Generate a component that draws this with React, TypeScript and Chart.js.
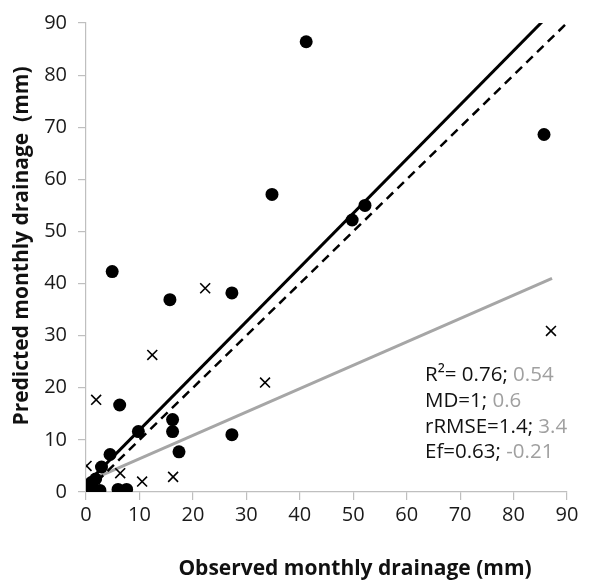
import React, { useEffect, useRef } from "react";
import { Chart, registerables } from "chart.js";

Chart.register(...registerables);

// Observed (x) vs predicted (y) monthly drainage, mm
const circleObs = [41.2, 85.7, 34.8, 49.8, 52.2, 4.9, 15.7, 27.3, 27.3, 6.3, 9.8, 16.2, 16.2, 17.4, 4.5, 2.9, 6.0, 7.6, 0, 0.6, 1.3, 2.0, 2.6, 0.3, 1.0, 1.8];
const circlePred = [86.4, 68.6, 57.1, 52.2, 55.0, 42.3, 36.9, 38.2, 11.0, 16.7, 11.6, 13.9, 11.6, 7.7, 7.2, 4.8, 0.5, 0.5, 0, 0, 0.2, 0.1, 0.3, 1.2, 1.8, 2.5];
const crossObs = [22.3, 12.4, 33.5, 87.0, 1.9, 0.1, 6.4, 10.5, 16.3, 0, 0.5, 1.5];
const crossPred = [39.1, 26.3, 21.0, 30.9, 17.7, 5.0, 3.6, 2.0, 2.9, 0.2, 0.5, 0.3];

const oneToOneX = [0, 90];
const oneToOneY = [0, 90];
const fitBlackX = [0, 85.8];
const fitBlackY = [1.5, 90.7];
const fitGrayX = [0, 87.2];
const fitGrayY = [1.9, 41.0];

const ticksX = [0, 10, 20, 30, 40, 50, 60, 70, 80, 90];
const ticksY = [0, 10, 20, 30, 40, 50, 60, 70, 80, 90];

const statsBlack = ["R²= 0.76;", "MD=1;", "rRMSE=1.4;", "Ef=0.63;"];
const statsGray = [" 0.54", " 0.6", " 3.4", " -0.21"];

const xTitle = "Observed monthly drainage (mm)";
const yTitle = "Predicted monthly drainage  (mm)";

const pts = (xs: number[], ys: number[]) => xs.map((x, i) => ({ x, y: ys[i] }));

const FONT = "'Open Sans', 'DejaVu Sans', sans-serif";

export default function App() {
  const ref = useRef<HTMLCanvasElement | null>(null);

  useEffect(() => {
    if (!ref.current) return;
    const overlay = {
      id: "overlay",
      afterDraw(chart: any) {
        const ctx = chart.ctx as CanvasRenderingContext2D;
        ctx.save();
        // stats annotation
        ctx.font = `20.5px ${FONT}`;
        ctx.textBaseline = "middle";
        ctx.textAlign = "left";
        const ys = [375, 401, 427, 452];
        statsBlack.forEach((t, i) => {
          ctx.fillStyle = "#111111";
          ctx.fillText(t, 425, ys[i]);
          const w = ctx.measureText(t).width;
          ctx.fillStyle = "#a0a0a0";
          ctx.fillText(statsGray[i], 425 + w, ys[i]);
        });
        // axis titles
        ctx.fillStyle = "#111111";
        ctx.font = `bold 21px ${FONT}`;
        ctx.textAlign = "center";
        ctx.fillText(xTitle, 355, 569);
        ctx.translate(22, 246);
        ctx.rotate(-Math.PI / 2);
        ctx.fillText(yTitle, 0, 0);
        ctx.restore();
      },
    };

    const chart = new Chart(ref.current, {
      type: "scatter",
      data: {
        datasets: [
          {
            label: "circles",
            data: pts(circleObs, circlePred),
            pointStyle: "circle",
            pointRadius: 6.5,
            backgroundColor: "#000000",
            borderColor: "#000000",
            borderWidth: 0,
            order: 1,
          },
          {
            label: "crosses",
            data: pts(crossObs, crossPred),
            pointStyle: "crossRot",
            pointRadius: 7,
            borderColor: "#000000",
            borderWidth: 1.6,
            order: 2,
          },
          {
            type: "line",
            label: "fit black",
            data: pts(fitBlackX, fitBlackY),
            borderColor: "#000000",
            borderWidth: 3,
            pointRadius: 0,
            fill: false,
            order: 3,
          },
          {
            type: "line",
            label: "1:1",
            data: pts(oneToOneX, oneToOneY),
            borderColor: "#000000",
            borderWidth: 2.5,
            borderDash: [9, 6],
            pointRadius: 0,
            fill: false,
            order: 4,
          },
          {
            type: "line",
            label: "fit gray",
            data: pts(fitGrayX, fitGrayY),
            borderColor: "#a6a6a6",
            borderWidth: 3,
            pointRadius: 0,
            fill: false,
            order: 5,
          },
        ] as any,
      },
      options: {
        animation: false,
        responsive: false,
        layout: { padding: { left: 0, top: 16, right: 22, bottom: 0 } },
        plugins: { legend: { display: false }, tooltip: { enabled: false } },
        scales: {
          x: {
            type: "linear",
            min: 0,
            max: 90,
            afterBuildTicks: (s: any) => {
              s.ticks = ticksX.map((v) => ({ value: v }));
            },
            afterFit: (s: any) => {
              s.height = 89;
            },
            grid: { drawOnChartArea: false, drawTicks: true, tickLength: 8, color: "#bfbfbf", lineWidth: 1.2 },
            border: { color: "#bfbfbf", width: 1.2 },
            ticks: { color: "#1a1a1a", font: { family: FONT, size: 20 }, padding: 3, maxRotation: 0 },
          },
          y: {
            type: "linear",
            min: 0,
            max: 90,
            afterBuildTicks: (s: any) => {
              s.ticks = ticksY.map((v) => ({ value: v }));
            },
            afterFit: (s: any) => {
              s.width = 86;
            },
            grid: { drawOnChartArea: false, drawTicks: true, tickLength: 8, color: "#bfbfbf", lineWidth: 1.2 },
            border: { color: "#bfbfbf", width: 1.2 },
            ticks: { color: "#1a1a1a", font: { family: FONT, size: 20 }, padding: 11 },
          },
        },
      } as any,
      plugins: [overlay],
    });
    return () => chart.destroy();
  }, []);

  return (
    <div style={{ position: "fixed", left: 0, top: 0, width: 589, height: 581, background: "#ffffff" }}>
      <canvas ref={ref} width={589} height={581} style={{ width: 589, height: 581 }} />
    </div>
  );
}
